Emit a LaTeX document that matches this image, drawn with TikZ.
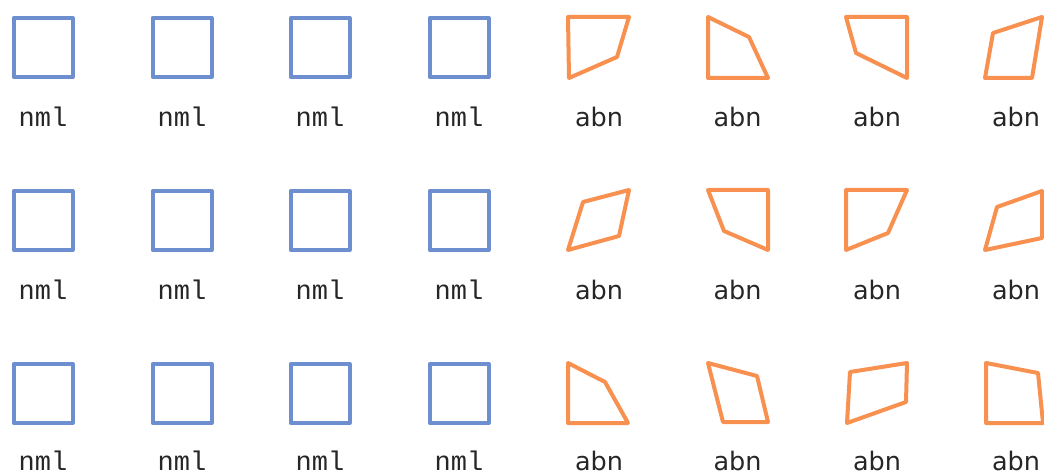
\documentclass[tikz,border=0pt]{standalone}
\usepackage{fontspec}
\newfontfamily\monof{Liberation Mono}
\newfontfamily\sansf{DejaVu Sans}
\definecolor{nblue}{HTML}{6E8FCF}
\definecolor{aorange}{HTML}{F89150}
\begin{document}
\begin{tikzpicture}[x=1pt,y=-1pt,
 nbox/.style={draw=nblue,line width=4pt,line join=round},
 abox/.style={draw=aorange,line width=4pt,line join=round},
 nlab/.style={anchor=base,inner sep=0pt,text=black!85,font=\monof\fontsize{27}{30}\selectfont},
 alab/.style={anchor=base,inner sep=0pt,text=black!85,font=\sansf\fontsize{25.5}{30}\selectfont}]
\useasboundingbox (0,0) rectangle (1044,473);
% blue squares and labels
\foreach \r/\y/\b in {1/18/127,2/191/299.5,3/364/470.5}{
  \foreach \c/\x in {1/43,2/182,3/320,4/459}{
    \draw[nbox] (\x-29.5,\y) rectangle (\x+29.5,\y+59);
    \node[nlab] (n\r\c) at (\x,\b) {nml};
  }
  \foreach \c/\x in {5/599,6/737.5,7/877,8/1016}{
    \node[alab] (a\r\c) at (\x,\b) {abn};
  }
}
% orange quadrilaterals, row 1
\draw[abox] (568,17) -- (629,17) -- (617,57) -- (569,78) -- cycle;
\draw[abox] (708,17) -- (749,37) -- (768,78) -- (708,78) -- cycle;
\draw[abox] (846,17) -- (907,17) -- (907,78) -- (856,53) -- cycle;
\draw[abox] (1042,17) -- (1032,78) -- (985,78) -- (993,33) -- cycle;
% row 2
\draw[abox] (629,190) -- (619,236) -- (568,250) -- (583,202) -- cycle;
\draw[abox] (708,190) -- (768,190) -- (768,250) -- (724,231) -- cycle;
\draw[abox] (846,190) -- (907,190) -- (888,233) -- (846,250) -- cycle;
\draw[abox] (997,207) -- (1042,191) -- (1042,238) -- (985,250) -- cycle;
% row 3
\draw[abox] (568,363) -- (605,382) -- (628,423) -- (568,423) -- cycle;
\draw[abox] (708,363) -- (757,376) -- (768,422) -- (723,422) -- cycle;
\draw[abox] (850,372) -- (907,363) -- (906,402) -- (847,423) -- cycle;
\draw[abox] (986,363) -- (1038,373) -- (1043,423) -- (986,423) -- cycle;
\end{tikzpicture}
\end{document}
